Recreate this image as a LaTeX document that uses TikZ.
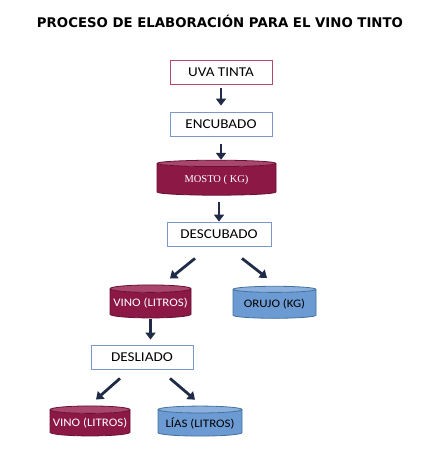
\documentclass[tikz,border=0pt]{standalone}
\usepackage{fontspec}
\setmainfont{Carlito}
\newfontfamily\titlefont{DejaVu Sans}
\newfontfamily\boxfont[FakeStretch=1.12]{Carlito}
\newfontfamily\mostofont{Liberation Serif}
\usetikzlibrary{shapes.geometric,arrows.meta}
\definecolor{wine}{HTML}{8C1846}
\definecolor{winetop}{HTML}{A8466E}
\definecolor{wineline}{HTML}{6A1034}
\definecolor{sky}{HTML}{6C9BD3}
\definecolor{skytop}{HTML}{8CB0DE}
\definecolor{skyline}{HTML}{41719C}
\definecolor{boxred}{HTML}{B04A6C}
\definecolor{boxblue}{HTML}{7A98C8}
\definecolor{arrowc}{HTML}{1F2B47}
\tikzset{
  stepbox/.style={draw=boxblue,line width=0.8pt,minimum width=102pt,minimum height=24pt,
    inner sep=0pt,font=\boxfont\fontsize{13.5}{15}\selectfont},
  tank/.style={shape=cylinder,shape border rotate=90,aspect=0.1,cylinder uses custom fill,
    line width=0.8pt,inner sep=0pt,font=\boxfont\fontsize{11.5}{13}\selectfont},
  redtank/.style={tank,draw=wineline,cylinder body fill=wine,cylinder end fill=winetop,text=white},
  bluetank/.style={tank,draw=skyline,cylinder body fill=sky,cylinder end fill=skytop},
  flow/.style={draw=arrowc,line width=2.8pt,-{Triangle[length=7pt,width=10pt]}}
}
\begin{document}
\begin{tikzpicture}[x=1pt,y=-1pt]
  \useasboundingbox (0,0) rectangle (437,470);
  \node (title) at (220,21) {\titlefont\bfseries\fontsize{13.3}{15}\selectfont PROCESO DE ELABORACIÓN PARA EL VINO TINTO};
  \node[stepbox,draw=boxred] (uva) at (221,72) {UVA TINTA};
  \node[stepbox] (encubado) at (221,124) {ENCUBADO};
  \node[redtank,minimum width=119pt,minimum height=35pt,font=\mostofont\fontsize{10.5}{12}\selectfont] (mosto) at (216.5,179.5) {MOSTO ( KG)};
  \node[stepbox,minimum width=104pt] (descubado) at (219,234) {DESCUBADO};
  \node[redtank,minimum width=81pt,minimum height=33pt] (vino) at (150.5,303.5) {VINO (LITROS)};
  \node[bluetank,minimum width=83pt,minimum height=32pt] (orujo) at (274.5,304) {ORUJO (KG)};
  \node[stepbox] (desliado) at (142,357) {DESLIADO};
  \node[redtank,minimum width=80pt,minimum height=30pt] (vinob) at (90,423) {VINO (LITROS)};
  \node[bluetank,minimum width=84pt,minimum height=30pt] (lias) at (200,423) {LÍAS (LITROS)};
  \begin{scope}[flow]
    \draw[shorten <=4pt,shorten >=6pt] (uva.south) -- (encubado.north);
    \draw[shorten <=8pt] (encubado.south) -- (encubado.south |- mosto.north);
    \draw[shorten <=6pt] (descubado.north |- mosto.south) -- (descubado.north);
    \draw ([xshift=-24pt,yshift=-12pt]descubado.south) -- ([xshift=19.5pt,yshift=6pt]vino.north);
    \draw ([xshift=23pt,yshift=-12pt]descubado.south) -- ([xshift=-7.5pt,yshift=8pt]orujo.north);
    \draw[shorten <=1pt,shorten >=5pt] (vino.south) -- (vino.south |- desliado.north);
    \draw ([xshift=-22pt,yshift=-9pt]desliado.south) -- ([xshift=6pt,yshift=6pt]vinob.north);
    \draw ([xshift=28pt,yshift=-9pt]desliado.south) -- ([xshift=-5pt,yshift=6pt]lias.north);
  \end{scope}
\end{tikzpicture}
\end{document}
